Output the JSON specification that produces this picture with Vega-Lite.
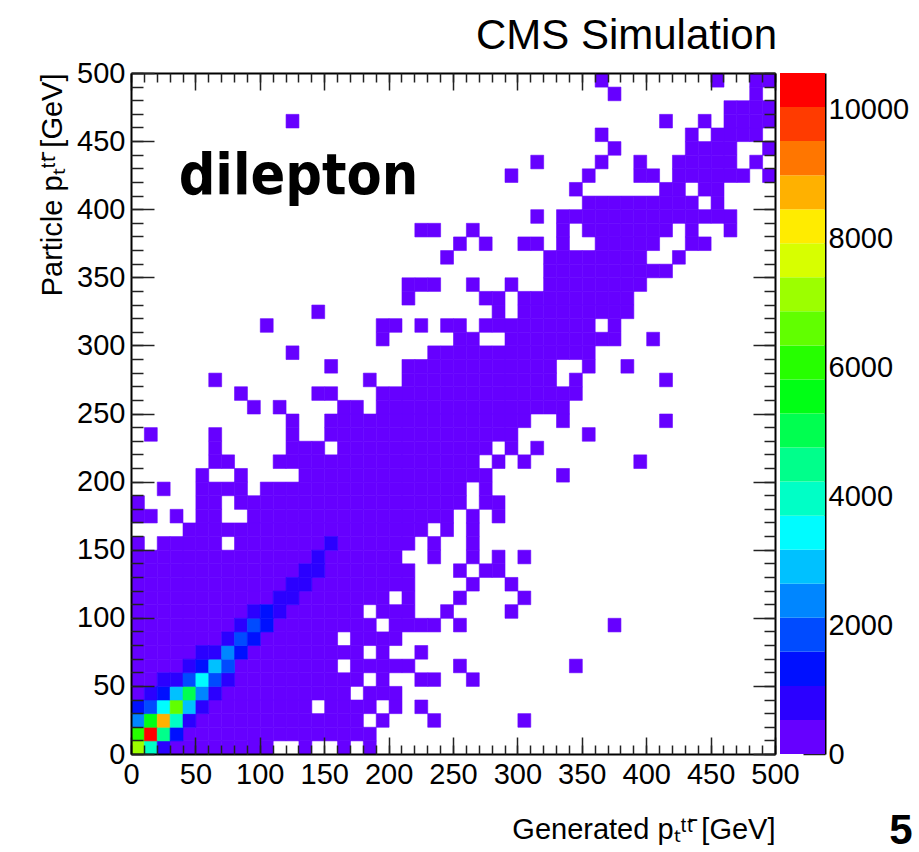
{
  "$schema": "https://vega.github.io/schema/vega-lite/v6.json",
  "background": "white",
  "padding": {"left": 38, "top": 15, "right": 5, "bottom": 0},
  "spacing": 5,
  "bounds": "flush",
  "config": {
    "font": "Liberation Sans",
    "view": {"stroke": null},
    "axis": {"labelFont": "Liberation Sans", "labelFontSize": 29, "labelColor": "black", "titleFont": "Liberation Sans", "titleFontSize": 29, "titleFontWeight": "normal", "titleColor": "black", "tickColor": "#222", "tickWidth": 1.5, "domainColor": "black", "domainWidth": 2, "grid": false, "labelFlush": false}
  },
  "datasets": {
    "cells": [
      {"py":490,"gx":[360,450,480,490],"n":20},
      {"py":480,"gx":[370,480],"n":20},
      {"py":470,"gx":[460,470,480,490],"n":20},
      {"py":460,"gx":[120,410,440,460,470,480,490],"n":20},
      {"py":450,"gx":[360,430,450,460,470,480],"n":20},
      {"py":440,"gx":[370,430,440,450,460,490],"n":20},
      {"py":430,"gx":[310,360,390,420,430,440,450,460,480],"n":25},
      {"py":420,"gx":[290,350,390,400,420,430,440,450,460,470,490],"n":25},
      {"py":410,"gx":[340,410,420,440,450],"n":25},
      {"py":400,"gx":[350,360,370,380,390,400,410,420,430,450],"n":25},
      {"py":390,"gx":[310,330,340,350,360,370,380,390,400,410,420,430,440,450,460],"n":25},
      {"py":380,"gx":[220,230,260,330,350,360,370,380,390,400,410,430,460],"n":30},
      {"py":370,"gx":[250,270,300,310,330,360,370,380,390,400,430,440],"n":30},
      {"py":360,"gx":[240,320,330,340,350,360,370,380,390,420],"n":30},
      {"py":350,"gx":[320,330,340,350,360,370,380,390,400,410],"n":30},
      {"py":340,"gx":[210,220,230,260,290,320,330,340,350,360,370,380,390],"n":30},
      {"py":330,"gx":[210,270,280,300,310,320,330,340,350,360,370,380],"n":35},
      {"py":320,"gx":[140,280,300,310,320,330,340,350,360,370,380],"n":35},
      {"py":310,"gx":[100,190,200,220,240,250,270,280,290,300,310,320,330,340,350,370],"n":35},
      {"py":300,"gx":[190,250,260,290,300,310,320,330,340,350,360,370,400],"n":35},
      {"py":290,"gx":[120,230,240,250,260,270,280,290,300,310,320,330,340,350],"n":40},
      {"py":280,"gx":[150,210,220,230,240,250,260,270,280,290,300,310,320,350,380],"n":40},
      {"py":270,"gx":[60,180,210,220,230,240,250,260,270,280,290,300,310,320,340,410],"n":40},
      {"py":260,"gx":[80,140,150,190,200,210,220,230,240,250,260,270,280,290,300,310,320,330,340],"n":45},
      {"py":250,"gx":[90,110,160,170,190,200,210,220,230,240,250,260,270,280,290,300,310,320,330],"n":45},
      {"py":240,"gx":[120,150,160,170,180,190,200,210,220,230,240,250,260,270,280,290,300,330,410],"n":50},
      {"py":230,"gx":[10,60,120,150,160,170,180,190,200,210,220,230,240,250,260,270,280,290,350],"n":50},
      {"py":220,"gx":[60,120,130,140,160,170,180,190,200,210,220,230,240,250,260,270,290,310],"n":55},
      {"py":210,"gx":[60,70,110,120,130,140,150,160,170,180,190,200,210,220,230,240,250,260,280,300,390],"n":60},
      {"py":200,"gx":[50,80,130,140,150,160,170,180,190,200,210,220,230,240,250,260,270,330],"n":60},
      {"py":190,"gx":[20,50,60,70,80,100,110,120,130,140,150,160,170,180,190,200,210,220,230,240,250,270],"n":70},
      {"py":180,"gx":[0,50,60,80,90,100,110,120,130,140,150,160,170,180,190,200,210,220,230,240,250,270,280],"n":80},
      {"py":170,"gx":[0,10,30,50,60,90,100,110,120,130,140,150,160,170,180,190,200,210,220,230,240,260,280],"n":90},
      {"py":160,"gx":[40,50,60,70,80,90,100,110,120,130,140,150,160,170,180,190,200,210,220,240,260],"n":100},
      {"py":150,"gx":[0,20,30,40,50,60,80,90,100,110,120,130,140,160,170,180,190,200,210,230,260],"n":120},
      {"py":140,"gx":[0,10,20,30,40,50,60,70,80,90,100,110,120,130,150,160,170,180,190,200,230,260,280,300],"n":140},
      {"py":130,"gx":[0,10,20,30,40,50,60,70,80,90,100,110,120,150,160,170,180,190,200,210,250,270,280],"n":160},
      {"py":120,"gx":[0,10,20,30,40,50,60,70,80,90,100,110,140,150,160,170,180,190,200,210,260,290],"n":180},
      {"py":110,"gx":[0,10,20,30,40,50,60,70,80,90,100,130,140,150,160,170,180,190,210,250,300],"n":200},
      {"py":100,"gx":[0,10,20,30,40,50,60,70,80,120,130,140,150,160,170,190,200,210,240,290],"n":220},
      {"py":90,"gx":[0,10,20,30,40,50,60,70,110,120,130,140,150,160,170,180,200,210,220,230,250,370],"n":240},
      {"py":80,"gx":[0,10,20,30,40,50,60,100,110,120,130,140,150,170,180,190,200],"n":260},
      {"py":70,"gx":[0,10,20,30,40,90,100,110,120,130,140,150,160,170,190,220],"n":280},
      {"py":60,"gx":[0,10,20,30,80,90,100,110,120,130,140,150,170,180,190,200,210,250,340],"n":300},
      {"py":50,"gx":[0,10,80,90,100,110,120,130,140,150,160,170,190,220,230,260],"n":320},
      {"py":40,"gx":[0,70,80,90,100,110,120,130,140,150,160,180,190,200],"n":340},
      {"py":30,"gx":[60,70,80,90,100,110,120,130,150,160,170,180,200,220],"n":360},
      {"py":20,"gx":[50,60,70,80,90,100,110,120,130,140,150,160,170,190,230,300],"n":380},
      {"py":10,"gx":[40,50,60,70,80,90,100,110,120,130,140,150,160,170,180],"n":400},
      {"py":0,"gx":[30,40,50,60,70,80,90,100,130,160,180],"n":420},
      {"py":0,"gx":[0],"n":7100},
      {"py":0,"gx":[10],"n":3950},
      {"py":0,"gx":[20],"n":800},
      {"py":10,"gx":[0],"n":6100},
      {"py":10,"gx":[10],"n":10350},
      {"py":10,"gx":[20],"n":4500},
      {"py":10,"gx":[30],"n":1300},
      {"py":20,"gx":[0],"n":2400},
      {"py":20,"gx":[10],"n":5500},
      {"py":20,"gx":[20],"n":8700},
      {"py":20,"gx":[30],"n":3900},
      {"py":20,"gx":[40],"n":800},
      {"py":30,"gx":[0],"n":1350},
      {"py":30,"gx":[10],"n":1850},
      {"py":30,"gx":[20],"n":3400},
      {"py":30,"gx":[30],"n":6600},
      {"py":30,"gx":[40],"n":2900},
      {"py":30,"gx":[50],"n":750},
      {"py":40,"gx":[10],"n":700},
      {"py":40,"gx":[20],"n":1300},
      {"py":40,"gx":[30],"n":2950},
      {"py":40,"gx":[40],"n":5000},
      {"py":40,"gx":[50],"n":2350},
      {"py":40,"gx":[60],"n":800},
      {"py":50,"gx":[20],"n":650},
      {"py":50,"gx":[30],"n":700},
      {"py":50,"gx":[40],"n":1800},
      {"py":50,"gx":[50],"n":3450},
      {"py":50,"gx":[60],"n":1900},
      {"py":50,"gx":[70],"n":750},
      {"py":60,"gx":[40],"n":700},
      {"py":60,"gx":[50],"n":1300},
      {"py":60,"gx":[60],"n":2900},
      {"py":60,"gx":[70],"n":1800},
      {"py":70,"gx":[50],"n":700},
      {"py":70,"gx":[60],"n":750},
      {"py":70,"gx":[70],"n":2400},
      {"py":70,"gx":[80],"n":1400},
      {"py":80,"gx":[70],"n":700},
      {"py":80,"gx":[80],"n":1850},
      {"py":80,"gx":[90],"n":1300},
      {"py":90,"gx":[80],"n":750},
      {"py":90,"gx":[90],"n":1800},
      {"py":90,"gx":[100],"n":1300},
      {"py":100,"gx":[90],"n":800},
      {"py":100,"gx":[100],"n":1250},
      {"py":100,"gx":[110],"n":800},
      {"py":110,"gx":[110],"n":700},
      {"py":110,"gx":[120],"n":750},
      {"py":120,"gx":[120],"n":700},
      {"py":120,"gx":[130],"n":700},
      {"py":130,"gx":[130],"n":650},
      {"py":130,"gx":[140],"n":700},
      {"py":140,"gx":[140],"n":650},
      {"py":150,"gx":[150],"n":600}
    ],
    "bands": [
      {"lo":0,"hi":528.4,"mid":264},
      {"lo":528.4,"hi":1056.8,"mid":793},
      {"lo":1056.8,"hi":1585.2,"mid":1321},
      {"lo":1585.2,"hi":2113.6,"mid":1849},
      {"lo":2113.6,"hi":2642,"mid":2378},
      {"lo":2642,"hi":3170.4,"mid":2906},
      {"lo":3170.4,"hi":3698.8,"mid":3435},
      {"lo":3698.8,"hi":4227.2,"mid":3963},
      {"lo":4227.2,"hi":4755.6,"mid":4491},
      {"lo":4755.6,"hi":5284,"mid":5020},
      {"lo":5284,"hi":5812.4,"mid":5548},
      {"lo":5812.4,"hi":6340.8,"mid":6077},
      {"lo":6340.8,"hi":6869.2,"mid":6605},
      {"lo":6869.2,"hi":7397.6,"mid":7133},
      {"lo":7397.6,"hi":7926,"mid":7662},
      {"lo":7926,"hi":8454.4,"mid":8190},
      {"lo":8454.4,"hi":8982.8,"mid":8719},
      {"lo":8982.8,"hi":9511.2,"mid":9247},
      {"lo":9511.2,"hi":10039.6,"mid":9775},
      {"lo":10039.6,"hi":10568,"mid":10304}
    ]
  },
  "hconcat": [
    {
      "width": 644,
      "height": 681,
      "title": {"text": "CMS Simulation", "anchor": "end", "frame": "group", "fontSize": 42, "fontWeight": "normal", "font": "Liberation Sans", "color": "black", "offset": 1, "dx": 2},
      "layer": [
        {
          "data": {"name": "cells"},
          "transform": [{"flatten": ["gx"]}],
          "mark": {"type": "rect", "strokeWidth": 0.6},
          "encoding": {
            "x": {"field": "gx", "type": "quantitative", "bin": {"binned": true, "step": 10},
                  "scale": {"domain": [0, 500], "nice": false, "zero": false},
                  "axis": {"orient": "bottom", "values": [0,50,100,150,200,250,300,350,400,450,500], "tickSize": -17, "labelPadding": 23, "domain": true, "title": "Generated pₜᵗᵗ̄ [GeV]", "titleAnchor": "end", "titlePadding": 26}},
            "y": {"field": "py", "type": "quantitative", "bin": {"binned": true, "step": 10},
                  "scale": {"domain": [0, 500], "nice": false, "zero": false},
                  "axis": {"orient": "left", "values": [0,50,100,150,200,250,300,350,400,450,500], "tickSize": -23, "labelPadding": 29, "domain": true, "title": "Particle pₜᵗᵗ̄ [GeV]", "titleAnchor": "end", "titlePadding": 9}},
            "color": {"field": "n", "type": "quantitative",
                      "scale": {"type": "quantize", "domain": [0, 10568], "nice": false, "range": ["#6600ff","#2b00ff","#0010ff","#004bff","#0086ff","#00c1ff","#00fcff","#00ffc6","#00ff8b","#00ff50","#00ff15","#26ff00","#61ff00","#9cff00","#d7ff00","#ffec00","#ffb100","#ff7600","#ff3b00","#ff0000"]},
                      "legend": null},
            "stroke": {"field": "n", "type": "quantitative",
                      "scale": {"type": "quantize", "domain": [0, 10568], "nice": false, "range": ["#6600ff","#2b00ff","#0010ff","#004bff","#0086ff","#00c1ff","#00fcff","#00ffc6","#00ff8b","#00ff50","#00ff15","#26ff00","#61ff00","#9cff00","#d7ff00","#ffec00","#ffb100","#ff7600","#ff3b00","#ff0000"]},
                      "legend": null}
          }
        },
        {
          "data": {"values": [{"gx": 0, "py": 0}]},
          "mark": {"type": "rect", "opacity": 0},
          "encoding": {
            "x": {"field": "gx", "type": "quantitative", "bin": {"binned": true, "step": 10}, "scale": {"domain": [0, 500], "nice": false, "zero": false},
                  "axis": {"orient": "bottom", "values": [0,10,20,30,40,50,60,70,80,90,100,110,120,130,140,150,160,170,180,190,200,210,220,230,240,250,260,270,280,290,300,310,320,330,340,350,360,370,380,390,400,410,420,430,440,450,460,470,480,490,500], "tickSize": -9, "labels": false, "domain": false, "title": null}},
            "y": {"field": "py", "type": "quantitative", "bin": {"binned": true, "step": 10}, "scale": {"domain": [0, 500], "nice": false, "zero": false},
                  "axis": {"orient": "left", "values": [0,10,20,30,40,50,60,70,80,90,100,110,120,130,140,150,160,170,180,190,200,210,220,230,240,250,260,270,280,290,300,310,320,330,340,350,360,370,380,390,400,410,420,430,440,450,460,470,480,490,500], "tickSize": -12, "labels": false, "domain": false, "title": null}}
          }
        },
        {
          "data": {"values": [{"gx": 0, "py": 0}]},
          "mark": {"type": "rect", "opacity": 0},
          "encoding": {
            "x": {"field": "gx", "type": "quantitative", "bin": {"binned": true, "step": 10}, "scale": {"domain": [0, 500], "nice": false, "zero": false},
                  "axis": {"orient": "top", "values": [0,50,100,150,200,250,300,350,400,450,500], "tickSize": -17, "labels": false, "domain": true, "title": null}},
            "y": {"field": "py", "type": "quantitative", "bin": {"binned": true, "step": 10}, "scale": {"domain": [0, 500], "nice": false, "zero": false},
                  "axis": {"orient": "right", "values": [0,50,100,150,200,250,300,350,400,450,500], "tickSize": -22, "labels": false, "domain": true, "title": null}}
          }
        },
        {
          "data": {"values": [{"gx": 0, "py": 0}]},
          "mark": {"type": "rect", "opacity": 0},
          "encoding": {
            "x": {"field": "gx", "type": "quantitative", "bin": {"binned": true, "step": 10}, "scale": {"domain": [0, 500], "nice": false, "zero": false},
                  "axis": {"orient": "top", "values": [0,10,20,30,40,50,60,70,80,90,100,110,120,130,140,150,160,170,180,190,200,210,220,230,240,250,260,270,280,290,300,310,320,330,340,350,360,370,380,390,400,410,420,430,440,450,460,470,480,490,500], "tickSize": -9, "labels": false, "domain": false, "title": null}},
            "y": {"field": "py", "type": "quantitative", "bin": {"binned": true, "step": 10}, "scale": {"domain": [0, 500], "nice": false, "zero": false},
                  "axis": {"orient": "right", "values": [0,10,20,30,40,50,60,70,80,90,100,110,120,130,140,150,160,170,180,190,200,210,220,230,240,250,260,270,280,290,300,310,320,330,340,350,360,370,380,390,400,410,420,430,440,450,460,470,480,490,500], "tickSize": -11, "labels": false, "domain": false, "title": null}}
          }
        },
        {
          "data": {"values": [{"label": "dilepton"}]},
          "mark": {"type": "text", "font": "DejaVu Sans Condensed, Liberation Sans", "fontWeight": "bold", "fontSize": 57, "align": "left", "baseline": "alphabetic", "color": "black"},
          "encoding": {
            "text": {"field": "label"},
            "x": {"datum": 37, "type": "quantitative", "axis": null},
            "y": {"datum": 411, "type": "quantitative", "axis": null}
          }
        }
      ],
      "resolve": {"axis": {"x": "independent", "y": "independent"}}
    },
    {
      "width": 45,
      "height": 681,
      "data": {"name": "bands"},
      "title": {"text": "5", "orient": "bottom", "anchor": "end", "fontSize": 42, "fontWeight": "bold", "font": "Liberation Sans", "color": "black", "offset": 42, "dx": 4},
      "mark": {"type": "rect"},
      "encoding": {
        "x": {"value": 0},
        "x2": {"value": "width"},
        "y": {"field": "lo", "type": "quantitative", "scale": {"domain": [0, 10568], "nice": false, "zero": true},
              "axis": {"orient": "right", "values": [0,2000,4000,6000,8000,10000], "format": "d", "tickSize": -22, "labelPadding": 25, "domain": true, "title": null}},
        "y2": {"field": "hi"},
        "color": {"field": "mid", "type": "quantitative",
                  "scale": {"type": "quantize", "domain": [0, 10568], "nice": false, "range": ["#6600ff","#2b00ff","#0010ff","#004bff","#0086ff","#00c1ff","#00fcff","#00ffc6","#00ff8b","#00ff50","#00ff15","#26ff00","#61ff00","#9cff00","#d7ff00","#ffec00","#ffb100","#ff7600","#ff3b00","#ff0000"]},
                  "legend": null}
      }
    }
  ]
}
